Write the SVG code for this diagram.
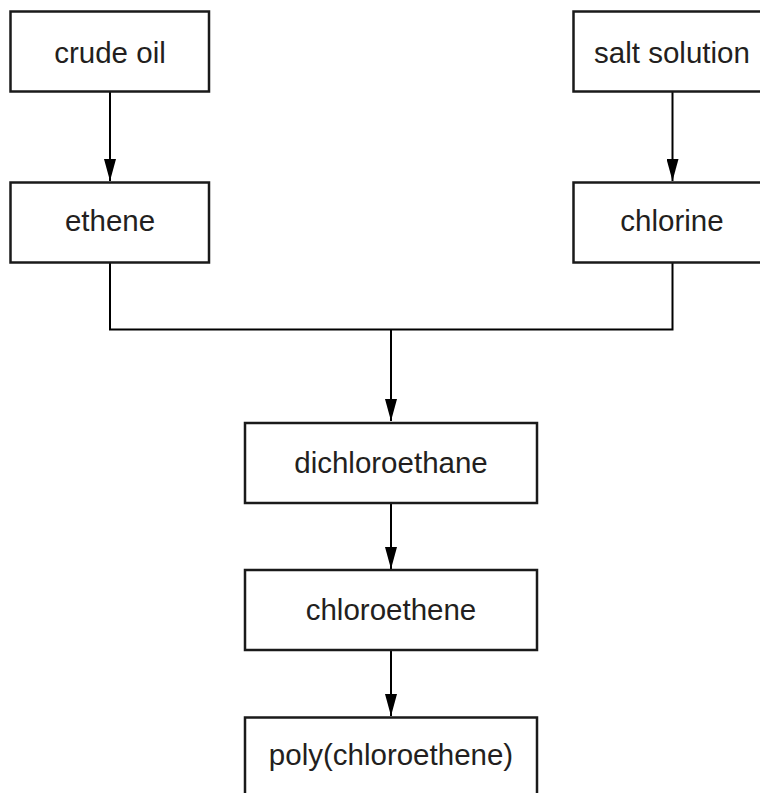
<svg xmlns="http://www.w3.org/2000/svg" width="760" height="793" viewBox="0 0 760 793">
<defs>
<style>
.box{fill:#fff;stroke:#1a1a1a;stroke-width:2.5}
.lbl{font-family:"Liberation Sans",Arial,sans-serif;font-size:29.5px;fill:#231f20;text-anchor:middle}
.con{fill:none;stroke:#000;stroke-width:2}
</style>
<marker id="ah" viewBox="0 0 22 12" refX="22" refY="6" markerWidth="22" markerHeight="12" markerUnits="userSpaceOnUse" orient="auto">
<path d="M0,0 L22,6 L0,12 Z" fill="#000"/>
</marker>
</defs>
<rect width="760" height="793" fill="#fff"/>
<g id="connectors">
<line class="con" x1="110" y1="92" x2="110" y2="181" marker-end="url(#ah)"/>
<line class="con" x1="672.5" y1="92" x2="672.5" y2="181" marker-end="url(#ah)"/>
<polyline class="con" points="110,262.5 110,329.5 672.5,329.5 672.5,262.5"/>
<line class="con" x1="391" y1="329.5" x2="391" y2="421" marker-end="url(#ah)"/>
<line class="con" x1="391" y1="503" x2="391" y2="569" marker-end="url(#ah)"/>
<line class="con" x1="391" y1="650.5" x2="391" y2="716" marker-end="url(#ah)"/>
</g>
<g id="crude-oil"><rect class="box" x="10.5" y="11.5" width="198.5" height="80"/><text class="lbl" x="110" y="62.5">crude oil</text></g>
<g id="salt-solution"><rect class="box" x="573.5" y="11.5" width="198.5" height="80"/><text class="lbl" x="672" y="62.5">salt solution</text></g>
<g id="ethene"><rect class="box" x="10.5" y="182.5" width="198.5" height="80"/><text class="lbl" x="110" y="231">ethene</text></g>
<g id="chlorine"><rect class="box" x="573.5" y="182.5" width="198.5" height="80"/><text class="lbl" x="672" y="231">chlorine</text></g>
<g id="dichloroethane"><rect class="box" x="245" y="423" width="292" height="80"/><text class="lbl" x="391" y="473">dichloroethane</text></g>
<g id="chloroethene"><rect class="box" x="245" y="570" width="292" height="80"/><text class="lbl" x="391" y="620">chloroethene</text></g>
<g id="poly-chloroethene"><rect class="box" x="245" y="717.5" width="292" height="80"/><text class="lbl" x="391" y="765">poly(chloroethene)</text></g>
</svg>
